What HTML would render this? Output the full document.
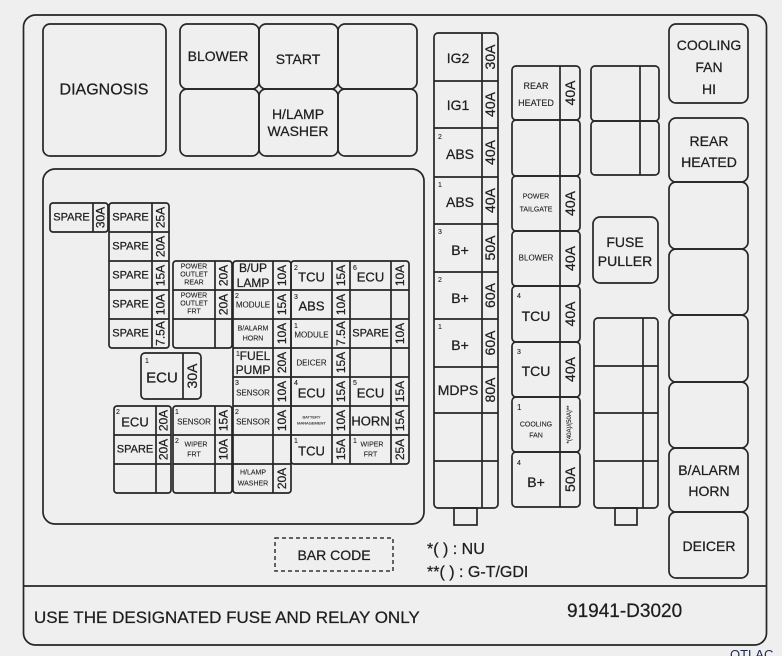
<!DOCTYPE html>
<html><head><meta charset="utf-8"><style>
html,body{margin:0;padding:0;background:#efefef;}
svg{display:block}
text{font-family:"Liberation Sans",sans-serif;fill:#1e1e1e;stroke:#1e1e1e;stroke-width:0.25px;}
.b{fill:none;stroke:#262626;stroke-width:1.7}
.s{font-size:11px;text-anchor:middle;dominant-baseline:central}
.m{font-size:13px;text-anchor:middle;dominant-baseline:central}
.l{font-size:15px;text-anchor:middle;dominant-baseline:central}
.t{font-size:7px;text-anchor:middle;dominant-baseline:central;stroke-width:0.1px}
.a{font-size:12px;text-anchor:middle;dominant-baseline:central}
.A{font-size:14px;text-anchor:middle;dominant-baseline:central}
.n{font-size:7px;stroke-width:0.1px}
</style></head><body>
<svg width="782" height="656" viewBox="0 0 782 656">
<rect x="0" y="0" width="782" height="656" fill="#efefef"/>
<rect class="b" x="23.5" y="15" width="743" height="630" rx="12"/>
<line class="b" x1="23.5" y1="586" x2="766.5" y2="586"/>
<rect class="b" x="43" y="24" width="123" height="132" rx="7"/>
<text class="l" x="104" y="90" style="font-size:16px">DIAGNOSIS</text>
<rect class="b" x="180" y="24" width="79" height="65" rx="7"/>
<rect class="b" x="259" y="24" width="79" height="65" rx="7"/>
<rect class="b" x="338" y="24" width="79" height="65" rx="7"/>
<rect class="b" x="180" y="89" width="79" height="67" rx="7"/>
<rect class="b" x="259" y="89" width="79" height="67" rx="7"/>
<rect class="b" x="338" y="89" width="79" height="67" rx="7"/>
<text class="A" x="218" y="56">BLOWER</text>
<text class="A" x="298" y="59">START</text>
<text class="A" x="298" y="114">H/LAMP</text>
<text class="A" x="298" y="131">WASHER</text>
<rect class="b" x="43" y="169" width="381" height="355" rx="12"/>

<g>
<rect class="b" x="50" y="203" width="58" height="29" rx="3"/><line class="b" x1="93" y1="203" x2="93" y2="232"/>
<text class="s" x="71.5" y="217.5">SPARE</text><text class="a" transform="translate(100.5,217.5) rotate(-90)">30A</text>
<rect class="b" x="109" y="203" width="60" height="145" rx="3"/>
<line class="b" x1="152" y1="203" x2="152" y2="348"/>
<line class="b" x1="109" y1="232" x2="169" y2="232"/><line class="b" x1="109" y1="261" x2="169" y2="261"/><line class="b" x1="109" y1="290" x2="169" y2="290"/><line class="b" x1="109" y1="319" x2="169" y2="319"/>
<text class="s" x="130.5" y="217.5">SPARE</text><text class="a" transform="translate(160.5,217.5) rotate(-90)">25A</text>
<text class="s" x="130.5" y="246.5">SPARE</text><text class="a" transform="translate(160.5,246.5) rotate(-90)">20A</text>
<text class="s" x="130.5" y="275.5">SPARE</text><text class="a" transform="translate(160.5,275.5) rotate(-90)">15A</text>
<text class="s" x="130.5" y="304.5">SPARE</text><text class="a" transform="translate(160.5,304.5) rotate(-90)">10A</text>
<text class="s" x="130.5" y="333.5">SPARE</text><text class="a" transform="translate(160.5,333.5) rotate(-90)">7.5A</text>
<rect class="b" x="173" y="261" width="59" height="87" rx="3"/>
<line class="b" x1="215" y1="261" x2="215" y2="348"/>
<line class="b" x1="173" y1="290" x2="232" y2="290"/><line class="b" x1="173" y1="319" x2="232" y2="319"/>
<text class="t" x="194" y="267">POWER</text><text class="t" x="194" y="275">OUTLET</text><text class="t" x="194" y="283">REAR</text>
<text class="a" transform="translate(223.5,275.5) rotate(-90)">20A</text>
<text class="t" x="194" y="296">POWER</text><text class="t" x="194" y="304">OUTLET</text><text class="t" x="194" y="312">FRT</text>
<text class="a" transform="translate(223.5,304.5) rotate(-90)">20A</text>
<rect class="b" x="233" y="261" width="58" height="232" rx="3"/>
<line class="b" x1="273" y1="261" x2="273" y2="493"/>
<rect class="b" x="291" y="261" width="118" height="203" rx="3"/>
<line class="b" x1="350" y1="261" x2="350" y2="464"/>
<line class="b" x1="332" y1="261" x2="332" y2="464"/>
<line class="b" x1="391" y1="261" x2="391" y2="464"/>
<line class="b" x1="233" y1="290" x2="409" y2="290"/><line class="b" x1="233" y1="319" x2="409" y2="319"/><line class="b" x1="233" y1="348" x2="409" y2="348"/><line class="b" x1="233" y1="377" x2="409" y2="377"/><line class="b" x1="233" y1="406" x2="409" y2="406"/><line class="b" x1="233" y1="435" x2="409" y2="435"/><line class="b" x1="233" y1="464" x2="291" y2="464"/>
<text class="s" x="253" y="268" style="font-size:12px">B/UP</text><text class="s" x="253" y="283" style="font-size:12px">LAMP</text><text class="a" transform="translate(282,275.5) rotate(-90)">10A</text>
<text class="n" x="294" y="270">2</text><text class="m" x="311.5" y="277">TCU</text><text class="a" transform="translate(341,275.5) rotate(-90)">15A</text>
<text class="n" x="353" y="270">6</text><text class="m" x="370.5" y="277">ECU</text><text class="a" transform="translate(400,275.5) rotate(-90)">10A</text>
<text class="n" x="235" y="298">2</text><text class="t" x="253" y="305" style="font-size:8px">MODULE</text><text class="a" transform="translate(282,304.5) rotate(-90)">15A</text>
<text class="n" x="294" y="299">3</text><text class="m" x="311.5" y="306">ABS</text><text class="a" transform="translate(341,304.5) rotate(-90)">10A</text>
<text class="t" x="253" y="329">B/ALARM</text><text class="t" x="253" y="339">HORN</text><text class="a" transform="translate(282,333.5) rotate(-90)">10A</text>
<text class="n" x="294" y="328">1</text><text class="t" x="311.5" y="335" style="font-size:8px">MODULE</text><text class="a" transform="translate(341,333.5) rotate(-90)">7.5A</text>
<text class="s" x="370.5" y="333.5">SPARE</text><text class="a" transform="translate(400,333.5) rotate(-90)">10A</text>
<text class="n" x="236" y="356">1</text><text class="s" x="255" y="356" style="font-size:12px">FUEL</text><text class="s" x="253" y="370" style="font-size:12px">PUMP</text><text class="a" transform="translate(282,362.5) rotate(-90)">20A</text>
<text class="t" x="311.5" y="363" style="font-size:8px">DEICER</text><text class="a" transform="translate(341,362.5) rotate(-90)">15A</text>
<text class="n" x="235" y="385">3</text><text class="t" x="253" y="393" style="font-size:8px">SENSOR</text><text class="a" transform="translate(282,391.5) rotate(-90)">10A</text>
<text class="n" x="294" y="385">4</text><text class="m" x="311.5" y="393">ECU</text><text class="a" transform="translate(341,391.5) rotate(-90)">15A</text>
<text class="n" x="353" y="385">5</text><text class="m" x="370.5" y="393">ECU</text><text class="a" transform="translate(400,391.5) rotate(-90)">15A</text>
<text class="n" x="235" y="414">2</text><text class="t" x="253" y="422" style="font-size:8px">SENSOR</text><text class="a" transform="translate(282,420.5) rotate(-90)">10A</text>
<text class="t" x="311.5" y="417" style="font-size:4px">BATTERY</text><text class="t" x="311.5" y="423" style="font-size:4px">MANAGEMENT</text><text class="a" transform="translate(341,420.5) rotate(-90)">10A</text>
<text class="m" x="370.5" y="421">HORN</text><text class="a" transform="translate(400,420.5) rotate(-90)">15A</text>
<text class="n" x="294" y="443">1</text><text class="m" x="311.5" y="451">TCU</text><text class="a" transform="translate(341,449.5) rotate(-90)">15A</text>
<text class="n" x="353" y="443">1</text><text class="t" x="372" y="445">WIPER</text><text class="t" x="370.5" y="455">FRT</text><text class="a" transform="translate(400,449.5) rotate(-90)">25A</text>
<text class="t" x="253" y="473">H/LAMP</text><text class="t" x="253" y="484">WASHER</text><text class="a" transform="translate(282,478.5) rotate(-90)">20A</text>
<rect class="b" x="114" y="406" width="57" height="87" rx="3"/>
<line class="b" x1="156" y1="406" x2="156" y2="493"/>
<line class="b" x1="114" y1="435" x2="171" y2="435"/><line class="b" x1="114" y1="464" x2="171" y2="464"/>
<rect class="b" x="173" y="406" width="59" height="87" rx="3"/>
<line class="b" x1="215" y1="406" x2="215" y2="493"/>
<line class="b" x1="173" y1="435" x2="232" y2="435"/><line class="b" x1="173" y1="464" x2="232" y2="464"/>
<text class="n" x="116" y="414">2</text><text class="m" x="135" y="422">ECU</text><text class="a" transform="translate(163.5,420.5) rotate(-90)">20A</text>
<text class="s" x="135" y="449.5">SPARE</text><text class="a" transform="translate(163.5,449.5) rotate(-90)">20A</text>
<text class="n" x="175" y="414">1</text><text class="t" x="194" y="422" style="font-size:8px">SENSOR</text><text class="a" transform="translate(223.5,420.5) rotate(-90)">15A</text>
<text class="n" x="175" y="443">2</text><text class="t" x="196" y="445">WIPER</text><text class="t" x="194" y="455">FRT</text><text class="a" transform="translate(223.5,449.5) rotate(-90)">10A</text>
<rect class="b" x="141" y="353" width="60" height="46" rx="4"/>
<line class="b" x1="183" y1="353" x2="183" y2="399"/>
<text class="n" x="145" y="363">1</text><text class="l" x="162" y="378">ECU</text><text class="A" transform="translate(192,376) rotate(-90)">30A</text>
</g>

<rect class="b" x="434" y="33" width="64" height="475" rx="4"/>
<line class="b" x1="482" y1="33" x2="482" y2="508"/>
<line class="b" x1="434" y1="81" x2="498" y2="81"/><line class="b" x1="434" y1="128" x2="498" y2="128"/><line class="b" x1="434" y1="177" x2="498" y2="177"/><line class="b" x1="434" y1="224" x2="498" y2="224"/><line class="b" x1="434" y1="272" x2="498" y2="272"/><line class="b" x1="434" y1="319" x2="498" y2="319"/><line class="b" x1="434" y1="367" x2="498" y2="367"/><line class="b" x1="434" y1="413" x2="498" y2="413"/><line class="b" x1="434" y1="461" x2="498" y2="461"/>
<rect class="b" x="454" y="508" width="23" height="17"/>
<text class="A" x="458" y="58">IG2</text><text class="A" transform="translate(490,57) rotate(-90)">30A</text>
<text class="A" x="458" y="105">IG1</text><text class="A" transform="translate(490,104.5) rotate(-90)">40A</text>
<text class="n" x="438" y="139">2</text><text class="A" x="460" y="154">ABS</text><text class="A" transform="translate(490,152.5) rotate(-90)">40A</text>
<text class="n" x="438" y="187">1</text><text class="A" x="460" y="202">ABS</text><text class="A" transform="translate(490,200.5) rotate(-90)">40A</text>
<text class="n" x="438" y="234">3</text><text class="A" x="460" y="250">B+</text><text class="A" transform="translate(490,248) rotate(-90)">50A</text>
<text class="n" x="438" y="282">2</text><text class="A" x="460" y="298">B+</text><text class="A" transform="translate(490,295.5) rotate(-90)">60A</text>
<text class="n" x="438" y="329">1</text><text class="A" x="460" y="345">B+</text><text class="A" transform="translate(490,343) rotate(-90)">60A</text>
<text class="A" x="458" y="390">MDPS</text><text class="A" transform="translate(490,390) rotate(-90)">80A</text>

<rect class="b" x="512" y="66" width="68" height="54" rx="4"/>
<rect class="b" x="512" y="120" width="68" height="56" rx="4"/>
<rect class="b" x="512" y="176" width="68" height="55" rx="4"/>
<rect class="b" x="512" y="231" width="68" height="55" rx="4"/>
<rect class="b" x="512" y="286" width="68" height="56" rx="4"/>
<rect class="b" x="512" y="342" width="68" height="55" rx="4"/>
<rect class="b" x="512" y="397" width="68" height="55" rx="4"/>
<rect class="b" x="512" y="452" width="68" height="55" rx="4"/>
<line class="b" x1="560" y1="66" x2="560" y2="507"/>
<text class="t" x="536" y="86" style="font-size:9px">REAR</text><text class="t" x="536" y="103" style="font-size:9px">HEATED</text><text class="A" transform="translate(570,93) rotate(-90)">40A</text>
<text class="t" x="536" y="197">POWER</text><text class="t" x="536" y="210">TAILGATE</text><text class="A" transform="translate(570,203.5) rotate(-90)">40A</text>
<text class="t" x="536" y="258" style="font-size:8px">BLOWER</text><text class="A" transform="translate(570,258.5) rotate(-90)">40A</text>
<text class="n" x="517" y="298">4</text><text class="A" x="536" y="316">TCU</text><text class="A" transform="translate(570,314) rotate(-90)">40A</text>
<text class="n" x="517" y="354">3</text><text class="A" x="536" y="371">TCU</text><text class="A" transform="translate(570,369.5) rotate(-90)">40A</text>
<text class="n" x="517" y="410" style="font-size:8px">1</text><text class="t" x="536" y="425">COOLING</text><text class="t" x="536" y="436">FAN</text><text class="t" transform="translate(570,424.5) rotate(-90)" style="font-size:6px">*(40A)/(50A)**</text>
<text class="n" x="517" y="465">4</text><text class="A" x="536" y="482">B+</text><text class="A" transform="translate(570,479.5) rotate(-90)">50A</text>

<rect class="b" x="591" y="66" width="68" height="55" rx="4"/>
<rect class="b" x="591" y="121" width="68" height="54" rx="4"/>
<line class="b" x1="640" y1="66" x2="640" y2="175"/>
<rect class="b" x="593" y="217" width="65" height="66" rx="7"/>
<text class="A" x="625" y="242">FUSE</text><text class="A" x="625" y="261">PULLER</text>
<rect class="b" x="594" y="318" width="64" height="190" rx="4"/>
<line class="b" x1="643" y1="318" x2="643" y2="508"/>
<line class="b" x1="594" y1="366" x2="658" y2="366"/><line class="b" x1="594" y1="413" x2="658" y2="413"/><line class="b" x1="594" y1="461" x2="658" y2="461"/>
<rect class="b" x="615" y="508" width="22" height="17"/>

<rect class="b" x="669" y="24" width="79" height="79" rx="7"/>
<rect class="b" x="669" y="118" width="79" height="64" rx="7"/>
<rect class="b" x="669" y="182" width="79" height="67" rx="7"/>
<rect class="b" x="669" y="249" width="79" height="66" rx="7"/>
<rect class="b" x="669" y="315" width="79" height="67" rx="7"/>
<rect class="b" x="669" y="382" width="79" height="66" rx="7"/>
<rect class="b" x="669" y="448" width="79" height="64" rx="7"/>
<rect class="b" x="669" y="512" width="79" height="66" rx="7"/>
<text class="A" x="709" y="45">COOLING</text><text class="A" x="709" y="67">FAN</text><text class="A" x="709" y="89">HI</text>
<text class="A" x="709" y="141">REAR</text><text class="A" x="709" y="162">HEATED</text>
<text class="A" x="709" y="470">B/ALARM</text><text class="A" x="709" y="491">HORN</text>
<text class="A" x="709" y="546">DEICER</text>

<rect x="275" y="538" width="118" height="33" fill="none" stroke="#333" stroke-width="1.5" stroke-dasharray="4,3"/>
<text class="A" x="334" y="555">BAR CODE</text>
<text x="427" y="554" style="font-size:16px">*( ) : NU</text>
<text x="427" y="577" style="font-size:16px">**( ) : G-T/GDI</text>
<text x="34" y="623" style="font-size:17px">USE THE DESIGNATED FUSE AND RELAY ONLY</text>
<text x="567" y="617" style="font-size:19px">91941-D3020</text>
<text x="730" y="659" style="font-size:13px;fill:#1a2a50;stroke:none">OTLAC</text>
</svg>
</body></html>
